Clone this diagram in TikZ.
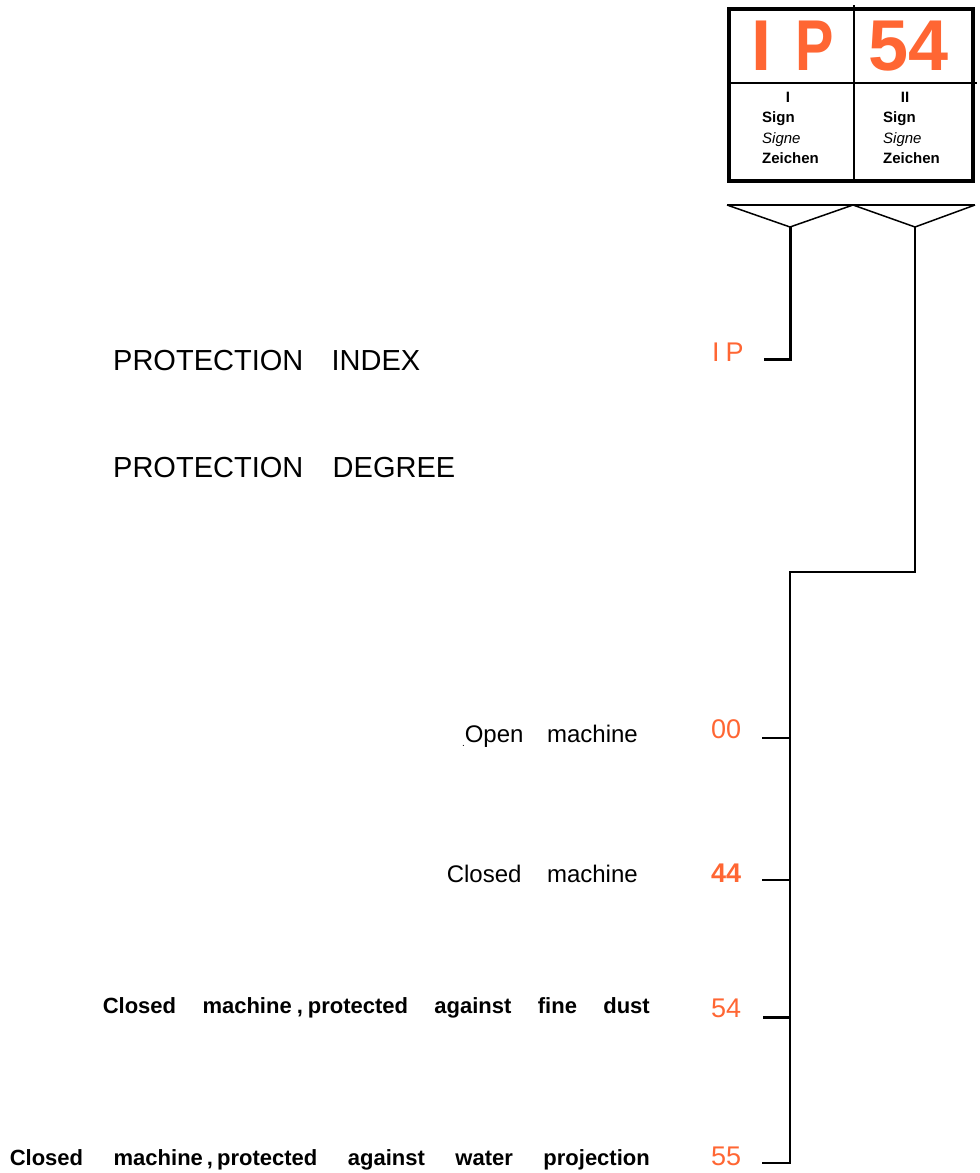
\documentclass[tikz,border=0pt]{standalone}
\usepackage{fontspec}
\setmainfont{Liberation Sans}
\definecolor{ipor}{HTML}{FF6633}
\begin{document}
\begin{tikzpicture}[x=1pt,y=-1pt,
  big/.style={font=\fontsize{72}{72}\selectfont\bfseries, text=ipor, anchor=base west, inner sep=0pt},
  small/.style={font=\fontsize{15}{15}\selectfont\bfseries, anchor=base west, inner sep=0pt},
  smallit/.style={font=\fontsize{15}{15}\selectfont\itshape, anchor=base west, inner sep=0pt},
  roman/.style={font=\fontsize{15}{15}\selectfont\bfseries, anchor=base, inner sep=0pt},
  title/.style={font=\fontsize{29}{29}\selectfont, anchor=base west, inner sep=0pt},
  desc/.style={font=\fontsize{24}{24}\selectfont, anchor=base east, inner sep=0pt},
  descb/.style={font=\fontsize{22}{22}\selectfont\bfseries, anchor=base east, inner sep=0pt},
  code/.style={font=\fontsize{27}{27}\selectfont, text=ipor, anchor=base west, inner sep=0pt},
  codeb/.style={font=\fontsize{27}{27}\selectfont\bfseries, text=ipor, anchor=base west, inner sep=0pt},
  wire/.style={line width=1.8pt, line cap=rect},
  thickwire/.style={line width=3pt},
  frame/.style={line width=4pt},
  divider/.style={line width=1.5pt}]
\useasboundingbox (0,0) rectangle (980,1173);

% sign box
\draw[frame] (729,9) rectangle (973,181);
\draw[divider] (854,5) -- (854,181);
\draw[divider] (729,83) -- (977,83);
\node[big] (bigIP) at (751,70) {I\hspace{24pt}\scalebox{0.8}[1]{P}};
\node[big] (big54) at (868,70) {54};
\node[roman] (r1) at (788,102) {I};
\node[roman] (r2) at (905,102) {II};
\node[small] (s1a) at (762,122) {Sign};
\node[smallit] (s1b) at (762,143) {Signe};
\node[small] (s1c) at (762,163) {Zeichen};
\node[small] (s2a) at (883,122) {Sign};
\node[smallit] (s2b) at (883,143) {Signe};
\node[small] (s2c) at (883,163) {Zeichen};

% brackets
\coordinate (bl) at (727,205);
\coordinate (bm) at (853,205);
\coordinate (br) at (975,205);
\coordinate (v1) at (790,227);
\coordinate (v2) at (915,227);
\draw[divider] (bl) -- (br);
\draw[divider, line join=miter] (bl) -- (v1) -- (bm) -- (v2) -- (br);

% first branch
\coordinate (ipend) at (764,359);
\draw[thickwire] (v1) -- (790,359) -- (ipend);
\node[code] (ipcode) at (712,361) {I\kern6pt P};

% second branch
\coordinate (jog) at (915,572);
\coordinate (top) at (790,572);
\coordinate (t00) at (790,738);
\coordinate (t44) at (790,880);
\coordinate (t54) at (790,1017);
\coordinate (t55) at (790,1163);
\draw[wire] (v2) -- (jog) -- (top) -- (t55);
\draw[wire] (t00) -- ++(-27,0) coordinate (e00);
\draw[wire] (t44) -- ++(-27,0) coordinate (e44);
\draw[thickwire] (t54) -- ++(-27,0) coordinate (e54);
\draw[wire] (t55) -- ++(-27,0) coordinate (e55);

\node[code] (c00) at (711,738) {00};
\node[codeb] (c44) at (711,882) {44};
\node[code] (c54) at (711,1017) {54};
\node[code] (c55) at (711,1165) {55};

% titles
\node[title] (pi) at (113,370) {\makebox[307pt][s]{PROTECTION INDEX}};
\node[title] (pd) at (113,477) {\makebox[342pt][s]{PROTECTION DEGREE}};

% descriptions
\node[desc] (d00) at (638,742) {\raisebox{-4pt}{\fontsize{10}{10}\selectfont.}\makebox[173pt][s]{Open machine}};
\node[desc] (d44) at (638,882) {\makebox[191pt][s]{Closed machine}};
\node[descb] (d54) at (650,1013) {\makebox[547pt][s]{Closed machine\kern5pt,\kern5pt protected against fine dust}};
\node[descb] (d55) at (650,1165) {\makebox[640pt][s]{Closed machine\kern4pt,\kern4pt protected against water projection}};
\end{tikzpicture}
\end{document}
